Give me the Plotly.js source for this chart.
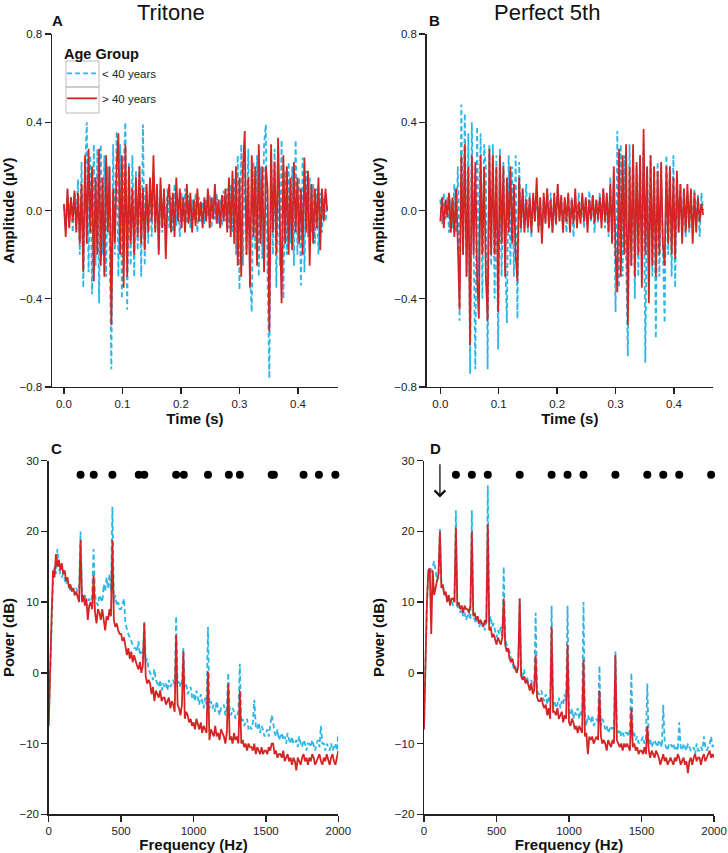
<!DOCTYPE html>
<html>
<head>
<meta charset="utf-8">
<script src="https://cdn.plot.ly/plotly-3.0.1.min.js"></script>
<style>
  html, body { margin: 0; padding: 0; background: #fff; }
  #myDiv { width: 728px; height: 853px; }
</style>
</head>
<body>
<div id="myDiv"></div>
<script>
// ---- waveforms (uV), sampled every 3 ms from 0 to 0.45 s ----
var timeStep = 0.003;

var triYoung = [
  0.02,-0.08,0.09,-0.05,0.06,-0.1,0.08,-0.04,0.14,-0.2,
  0.22,-0.35,0.18,0.40,-0.28,0.25,-0.38,0.3,-0.25,0.28,
  -0.42,0.3,-0.2,0.25,-0.3,0.2,-0.15,-0.72,0.3,-0.2,
  0.36,-0.3,0.3,-0.4,0.2,0.40,-0.45,0.22,-0.25,0.25,
  -0.3,0.18,-0.18,0.2,-0.3,0.39,-0.25,0.12,-0.15,0.1,
  -0.12,0.15,-0.08,0.1,-0.18,0.12,-0.1,0.08,-0.06,0.1,
  -0.08,0.06,-0.1,0.12,-0.07,0.05,-0.12,0.08,-0.05,0.1,
  -0.06,0.07,-0.08,0.05,-0.04,0.08,-0.1,0.06,-0.05,0.04,
  -0.06,0.05,-0.03,0.07,-0.08,0.06,-0.04,0.08,-0.06,0.05,
  -0.07,0.09,-0.05,0.1,-0.08,0.12,-0.1,0.15,-0.2,0.25,
  -0.36,0.3,-0.25,0.25,-0.2,0.28,-0.3,-0.46,0.22,-0.18,
  0.25,-0.3,0.2,-0.22,0.3,0.39,-0.3,-0.76,0.25,-0.2,
  0.28,-0.35,0.2,-0.25,0.32,-0.4,0.18,-0.2,0.22,-0.15,
  0.2,-0.25,0.32,-0.2,0.15,-0.34,0.24,-0.28,0.18,-0.12,
  0.15,-0.1,0.12,-0.15,0.1,-0.2,0.08,-0.1,0.06,-0.05,
  0.02
];
var triOld = [
  0.03,-0.12,0.1,-0.08,0.06,-0.05,0.09,-0.1,0.08,-0.15,
  0.12,-0.28,0.25,-0.15,0.28,-0.1,0.2,-0.32,0.15,-0.2,
  0.28,-0.25,0.15,-0.3,0.25,-0.1,0.2,-0.52,0.1,-0.15,
  0.2,0.35,-0.2,0.25,-0.35,0.3,-0.3,0.2,-0.15,0.1,
  -0.2,0.15,-0.12,0.2,-0.15,0.1,-0.18,0.12,-0.1,0.15,
  -0.05,0.25,-0.1,0.12,-0.2,0.15,-0.08,0.1,-0.22,0.05,
  0.12,-0.1,0.08,-0.12,0.15,-0.05,0.1,-0.08,0.06,-0.1,
  0.12,-0.06,0.08,-0.1,0.05,-0.07,0.1,-0.05,0.04,-0.08,
  0.06,-0.05,0.1,-0.08,0.06,-0.04,0.12,-0.06,0.05,-0.08,
  0.07,-0.05,0.1,-0.1,0.15,-0.12,0.18,-0.15,0.2,-0.25,
  0.15,-0.3,0.2,0.36,-0.2,0.15,-0.35,0.25,-0.12,0.2,
  -0.25,0.3,-0.15,0.2,-0.28,0.2,0.1,-0.55,0.3,-0.1,
  0.22,-0.2,0.33,-0.1,-0.42,0.25,-0.15,0.2,-0.2,0.15,
  -0.18,0.22,-0.1,0.15,-0.15,0.1,-0.2,0.24,-0.1,0.18,
  -0.25,0.12,-0.15,0.1,-0.08,0.15,-0.18,0.1,-0.05,0.1,
  0.0
];
var fifthYoung = [
  0.05,-0.06,0.08,-0.04,0.06,-0.1,0.05,-0.08,0.12,-0.1,
  0.2,-0.5,0.48,-0.2,0.44,-0.3,0.35,-0.74,0.4,-0.3,
  -0.72,0.38,-0.3,0.35,-0.4,0.3,0.2,-0.72,0.3,-0.25,
  0.3,-0.4,0.25,-0.63,0.28,-0.3,0.22,-0.2,-0.51,0.25,
  -0.25,0.2,-0.3,0.25,-0.49,0.22,-0.1,0.1,-0.08,0.12,
  -0.1,0.08,-0.12,0.06,-0.05,0.1,-0.08,0.05,-0.12,0.06,
  -0.05,0.1,-0.06,0.08,-0.1,0.05,-0.07,0.12,-0.04,0.06,
  -0.08,0.05,-0.1,0.07,-0.05,0.06,-0.12,0.04,-0.06,0.08,
  -0.04,0.06,-0.08,0.05,-0.06,0.09,-0.05,0.07,-0.1,0.05,
  -0.06,0.08,-0.05,0.1,-0.08,0.06,-0.12,0.15,-0.1,0.12,
  -0.46,0.36,-0.35,0.3,-0.3,0.25,-0.2,-0.66,0.3,-0.25,
  0.28,-0.4,0.2,-0.3,0.25,-0.2,0.3,-0.69,0.2,-0.25,
  0.25,-0.3,0.2,-0.58,0.22,-0.3,0.15,-0.2,-0.51,0.25,
  -0.2,0.2,-0.3,0.25,-0.35,0.15,-0.1,0.12,-0.08,0.1,
  -0.12,0.08,-0.1,0.06,-0.08,0.1,-0.05,0.07,-0.12,0.08,
  0.0
];
var fifthOld = [
  -0.05,0.06,-0.08,0.05,-0.03,0.08,-0.1,0.06,-0.12,0.1,
  -0.15,-0.45,0.25,-0.2,0.3,-0.3,0.2,-0.61,0.25,-0.2,
  0.22,-0.3,-0.49,0.25,-0.2,0.2,-0.3,-0.5,0.28,-0.2,
  0.25,-0.2,0.2,-0.46,0.25,-0.15,0.2,-0.3,0.15,-0.1,
  0.2,-0.15,0.12,-0.2,-0.32,0.15,-0.08,0.1,-0.1,0.05,
  -0.08,0.06,-0.1,0.08,-0.05,0.15,-0.1,0.06,-0.15,0.08,
  -0.06,0.1,-0.08,0.05,-0.1,0.08,-0.06,0.12,-0.05,0.07,
  -0.1,0.06,-0.05,0.08,-0.1,0.05,-0.06,0.1,-0.08,0.04,
  -0.06,0.08,-0.05,0.06,-0.1,0.05,-0.04,0.07,-0.06,0.05,
  -0.04,0.06,-0.08,0.1,-0.05,0.08,-0.1,0.12,-0.15,0.2,
  -0.2,-0.37,0.28,-0.3,0.25,-0.2,0.3,-0.52,0.2,-0.25,
  0.3,-0.3,0.22,-0.2,0.25,-0.35,0.37,-0.2,0.2,-0.42,
  0.25,-0.25,0.2,-0.3,0.18,-0.2,0.22,-0.15,-0.25,0.2,
  -0.15,0.2,-0.2,0.15,-0.22,0.18,-0.1,0.12,-0.15,0.1,
  -0.1,0.12,-0.08,0.1,-0.15,0.08,-0.1,0.06,-0.05,0.03,
  -0.02
];

// ---- spectra (dB), every 10 Hz from 0 to 2000 Hz ----
var freqStep = 10;

var triYoungPow = [
  -7,1,8,13,15,14,17.5,15,14,13.5,
  14,13,12.5,13,12,11.5,12,11.5,11,12,
  11.5,12,20,11,10.5,11,9.5,10,10.5,9.5,
  11,17.5,11,10,9.5,11,10.5,10,12.5,11.5,
  13.5,12,14,11.5,23.5,10,11,9.5,10,9,
  9,10,10.5,7,6,5.5,5,4.5,4,3.5,
  3.5,3,4.5,2.5,3,2,7.3,1.5,2,0.5,
  0,-0.5,-1,0.5,-1,-1.5,-2,-1,-2.5,-1.5,
  -2,-1.5,-2.5,-1,-2,-1.5,-1,-2,8,-1.5,
  -1,-2,-1.5,3.5,-2,-1.5,-3,-2.5,-2,-3.5,
  -3,-4,-2.5,-3.5,-4.5,-3,-4,-5,-3.5,-4.5,
  6.5,-5,-4,-5,-4.5,-5.5,-4,-5,-6,-5,
  -5,-4.5,-6,-5,0,-5.5,-6,-5,-5.5,-6.5,
  -6,-5.5,1.3,-7,-6.5,-7.5,-7,-6.5,-8,-7.5,
  -8,-7,-3.8,-7.5,-8,-7,-8.5,-7.5,-8,-9,
  -8.5,-8,-9,-7.5,-6,-7,-8.5,-9,-8,-9.5,
  -9,-8.5,-9.5,-9,-10,-8.5,-9.5,-10,-9,-10,
  -10,-9.5,-10.5,-9,-10,-10.5,-9.5,-10,-11,-10,
  -10,-10.5,-9.5,-10.5,-11,-10,-9.5,-10.5,-7.5,-10,
  -10,-11,-10,-10.5,-11,-10,-11,-10.5,-10,-11,
  -8.5
];
var triOldPow = [
  -7.5,2,8,14.5,13.5,16.8,15,16,14.5,15.5,
  14,14.5,13,13.5,12,12.5,11.5,12,11,11.5,
  10.5,10,18.8,10,11,9.5,10.5,7.5,9.5,10,
  9,13.8,8.5,7,9,8.5,7.5,9,7.5,6,
  8,7.5,9,8,18.8,7.5,6.5,7,6,5.5,
  5.5,4.5,5,4,2.5,3.5,2,3,1.5,2.5,
  1.5,1,0.5,1.5,0,1,7,-0.5,-1.5,-1,
  -1.5,-3,-2,-4,-2.5,-3,-3.5,-2.5,-4,-3.5,
  -3.5,-4.5,-4,-3.5,-5,-4,-4.5,-5.5,5.3,-4.5,
  -5,-6,-4.5,3,-6.5,-5.5,-6,-7,-6.5,-7.5,
  -7,-8,-6.5,-7.5,-8,-7,-8.5,-7.5,-8,-8.5,
  0.2,-9.5,-8,-8.5,-9,-7.5,-9,-8.5,-9.5,-8,
  -8.5,-9,-10,-8.5,-1.5,-9.5,-9,-10,-8.5,-9.5,
  -9,-10,-2.5,-10,-9.5,-10.5,-10,-11,-10,-10.5,
  -10.5,-11,-10,-11.5,-10.5,-11,-11.5,-10.5,-11.5,-11,
  -11,-11.5,-10.5,-11,-10,-10,-11.5,-11,-12,-11.5,
  -11.5,-12,-11,-12.5,-12,-11.5,-12.5,-12,-13,-12,
  -12.5,-13.8,-12,-12.5,-13,-12,-11.5,-12.5,-12,-13,
  -12,-12.5,-11.5,-12,-13,-12.5,-12,-11.5,-12.5,-13,
  -12,-12.5,-11.5,-12.5,-13,-12,-11.5,-12.5,-13,-12,
  -11
];
var fifthYoungPow = [
  -7.5,2,9,14,13.5,14.5,15,15.8,14,13,
  13.5,20.5,12.5,12,11.5,11,10.5,11,10,10.5,
  9.5,10,23,9,9.5,8.5,9,8,8.5,7.5,
  8,8.5,7.5,23,8,7.5,7,8,6.5,7,
  6.5,7,6,7.5,26.5,7,8,6.5,7,6,
  5,6,5.5,6.5,5,15,5,4,3.5,3,
  2,1.5,0.5,1,0,1,10.5,0,-0.5,0.5,
  -1,-0.5,-1.5,-2,-1,-2.5,-2,8.5,-2.5,-3,
  -3,-2.5,-3.5,-4,-3,-4.5,-3.5,-4,9.5,-4.5,
  -4,-5,-4.5,-3.5,-5,-4,-4.5,-3,-4,9.5,
  -5.5,-6,-5,-6.5,-5.5,-6,-5,-6.5,-5.5,-6,
  10,-6.5,-7.5,-6,-6.5,-7,-6,-7.5,-7,-6.5,
  -7,1,-7.5,-6.5,-7,-8,-7.5,-8.5,-8,-7.5,
  -8,-7.5,3,-8,-8.5,-8,-9,-8.5,-9,-8.5,
  -8.5,-9,-8,0,-9,-8.5,-9.5,-9,-10,-9.5,
  -9.5,-9,-10,-9.5,-1.5,-10,-9.5,-10.5,-10,-9.5,
  -10,-10.5,-9.5,-10,-10.5,-4.5,-10,-10.5,-11,-10,
  -10,-10.5,-10,-11,-10.5,-11,-7,-10.5,-11,-10,
  -10.5,-11,-10,-10.5,-11,-11,-10.5,-11.5,-10,-11,
  -11,-10.5,-11,-9,-10.5,-11,-10.5,-10,-9,-10.5,
  -10
];
var fifthOldPow = [
  -8,3,10,14.5,14.8,5.5,14.5,11,12,13,
  14,20,12,12.5,11,11.5,10,11,9.5,10.5,
  10.5,10,20.5,9.5,10,9,9.5,8.5,9.5,9,
  9,8.5,9.5,20,8,8.5,7.5,8,7,7.5,
  7,6.5,7.5,7,21,6,6.5,5,5.5,4.5,
  4,5,4.5,4,5,10.5,4,3,3.5,2,
  1.5,2,1,0.5,0,1,10.5,-0.5,-1,-0.5,
  -1.5,-1,-2,-2.5,-1.5,-3,-2.5,2.5,-3.5,-4,
  -4,-3.5,-4.5,-5,-4.5,-6,-5,-6.5,6.5,-5.5,
  -5.5,-6,-5,-6.5,-6,-5.5,-7,-6,-6.5,4,
  -7,-7.5,-6.5,-7,-8,-7.5,-8.5,-7.5,-8,-8.5,
  1.8,-9,-8.5,-11.5,-9,-9.5,-9,-10,-9.5,-9,
  -9.5,-2.5,-9,-10,-9.5,-10,-11,-9.5,-10,-10.5,
  -9.5,-10,2.5,-9.5,-10,-10.5,-10,-11,-10,-10.5,
  -10,-10.5,-11,-5,-10.5,-10,-11,-10.5,-11.5,-11,
  -11,-11.5,-10.5,-11.5,-7.5,-11,-12,-11,-11.5,-12,
  -11,-11.5,-12,-13,-12,-11.5,-12.5,-12,-13,-12.5,
  -12,-12.5,-13,-12,-12.5,-11.5,-12,-13,-12.5,-12,
  -13,-12.5,-14.2,-12.5,-12,-13,-12,-11.5,-12.5,-12,
  -12,-13,-12,-11.5,-12.5,-12,-11.5,-11,-12,-11.5,
  -12
];

// harmonics marked with dots, and the 110 Hz difference tone
var triHarmonics = [220, 311, 440, 622, 660, 880, 933, 1100, 1244, 1320, 1540, 1555, 1760, 1866, 1980];
var fifthHarmonics = [220, 330, 440, 660, 880, 990, 1100, 1320, 1540, 1650, 1760, 1980];
var dotLevel = 28;
var diffTone = 110;

var young = '#2cb6e8';
var old = '#d42424';
var ink = '#222';

function grid(n, step) {
  var out = [];
  for (var i = 0; i < n; i++) out.push(+(i * step).toFixed(4));
  return out;
}
var t = grid(triYoung.length, timeStep);
var f = grid(triYoungPow.length, freqStep);

function line(x, y, ax, isYoung, legend) {
  return {
    type: 'scatter', mode: 'lines', x: x, y: y,
    xaxis: 'x' + ax, yaxis: 'y' + ax,
    name: isYoung ? '< 40 years' : '> 40 years',
    legendgroup: isYoung ? 'young' : 'old',
    showlegend: legend,
    line: isYoung ? {color: young, width: 1.8, dash: '5px,3px'} : {color: old, width: 1.8},
    hoverinfo: 'skip'
  };
}
function dots(h, ax) {
  return {
    type: 'scatter', mode: 'markers', x: h, y: h.map(function () { return dotLevel; }),
    xaxis: 'x' + ax, yaxis: 'y' + ax, showlegend: false,
    marker: {color: '#000', size: 8}, cliponaxis: false, hoverinfo: 'skip'
  };
}

var data = [
  line(t, triYoung, '', true, true),
  line(t, triOld, '', false, true),
  line(t, fifthYoung, '2', true, false),
  line(t, fifthOld, '2', false, false),
  line(f, triYoungPow, '3', true, false),
  line(f, triOldPow, '3', false, false),
  line(f, fifthYoungPow, '4', true, false),
  line(f, fifthOldPow, '4', false, false),
  dots(triHarmonics, '3'),
  dots(fifthHarmonics, '4')
];

function axis(extra) {
  var base = {
    showline: true, linecolor: ink, linewidth: 1.4,
    ticks: 'outside', ticklen: 6, tickwidth: 1.4, tickcolor: ink,
    showgrid: false, zeroline: false, fixedrange: true,
    tickfont: {size: 11.5, color: ink}
  };
  for (var k in extra) base[k] = extra[k];
  return base;
}
function ttl(txt, standoff) {
  return {text: '<b>' + txt + '</b>', font: {size: 15, color: '#111'}, standoff: standoff};
}
function label(txt, px, py, size) {
  return {text: txt, x: px / 728, y: 1 - py / 853, xref: 'paper', yref: 'paper',
    xanchor: 'center', yanchor: 'middle', showarrow: false, font: {size: size, color: '#111'}};
}

var topRow = [0.5463, 0.9601];
var botRow = [0.0454, 0.4599];

var layout = {
  width: 728, height: 853,
  margin: {l: 0, r: 0, t: 0, b: 0},
  paper_bgcolor: '#fff', plot_bgcolor: '#fff',
  font: {family: 'Liberation Sans, Arial, sans-serif', color: ink},
  xaxis: axis({domain: [0.0714, 0.4643], range: [-0.0205, 0.4684], anchor: 'y',
    tickvals: [0, 0.1, 0.2, 0.3, 0.4], tickformat: '.1f', title: ttl('Time (s)', 0)}),
  yaxis: axis({domain: topRow, range: [-0.8, 0.8], anchor: 'x',
    tickvals: [-0.8, -0.4, 0, 0.4, 0.8], tickformat: '.1f', title: ttl('Amplitude (µV)', 6)}),
  xaxis2: axis({domain: [0.5861, 0.9794], range: [-0.0233, 0.4668], anchor: 'y2',
    tickvals: [0, 0.1, 0.2, 0.3, 0.4], tickformat: '.1f', title: ttl('Time (s)', 0)}),
  yaxis2: axis({domain: topRow, range: [-0.8, 0.8], anchor: 'x2',
    tickvals: [-0.8, -0.4, 0, 0.4, 0.8], tickformat: '.1f', title: ttl('Amplitude (µV)', 6)}),
  xaxis3: axis({domain: [0.0669, 0.4647], range: [0, 2000], anchor: 'y3',
    tickvals: [0, 500, 1000, 1500, 2000], title: ttl('Frequency (Hz)', 0)}),
  yaxis3: axis({domain: botRow, range: [-20, 30], anchor: 'x3',
    tickvals: [-20, -10, 0, 10, 20, 30], title: ttl('Power (dB)', 6)}),
  xaxis4: axis({domain: [0.5824, 0.9808], range: [0, 2000], anchor: 'y4',
    tickvals: [0, 500, 1000, 1500, 2000], title: ttl('Frequency (Hz)', 0)}),
  yaxis4: axis({domain: botRow, range: [-20, 30], anchor: 'x4',
    tickvals: [-20, -10, 0, 10, 20, 30], title: ttl('Power (dB)', 6)}),
  showlegend: true,
  legend: {
    x: 62 / 728, y: 1 - 40 / 853, xanchor: 'left', yanchor: 'top',
    bgcolor: 'rgba(0,0,0,0)', font: {size: 11.5, color: ink},
    title: {text: '<b>Age Group</b>', font: {size: 14.5, color: '#111'}},
    tracegroupgap: 6
  },
  annotations: [
    label('Tritone', 171, 12, 22),
    label('Perfect 5th', 547, 12, 22),
    label('<b>A</b>', 57, 20, 15),
    label('<b>B</b>', 434, 20, 15),
    label('<b>C</b>', 56, 448, 15),
    label('<b>D</b>', 435, 448, 15),
    {text: '', x: diffTone, y: 24.8, xref: 'x4', yref: 'y4', ax: diffTone, ay: 29.7, axref: 'x4', ayref: 'y4',
      showarrow: true, arrowhead: 4, arrowsize: 1.6, arrowwidth: 1.3, arrowcolor: '#111'}
  ],
  shapes: [
    {type: 'rect', xref: 'paper', yref: 'paper', x0: 66 / 728, x1: 99 / 728, y0: 1 - 87 / 853, y1: 1 - 61 / 853,
      line: {color: '#bbb', width: 1}, layer: 'below'},
    {type: 'rect', xref: 'paper', yref: 'paper', x0: 66 / 728, x1: 99 / 728, y0: 1 - 113 / 853, y1: 1 - 87 / 853,
      line: {color: '#bbb', width: 1}, layer: 'below'}
  ]
};

Plotly.newPlot('myDiv', data, layout, {displayModeBar: false, staticPlot: true});
</script>
</body>
</html>
